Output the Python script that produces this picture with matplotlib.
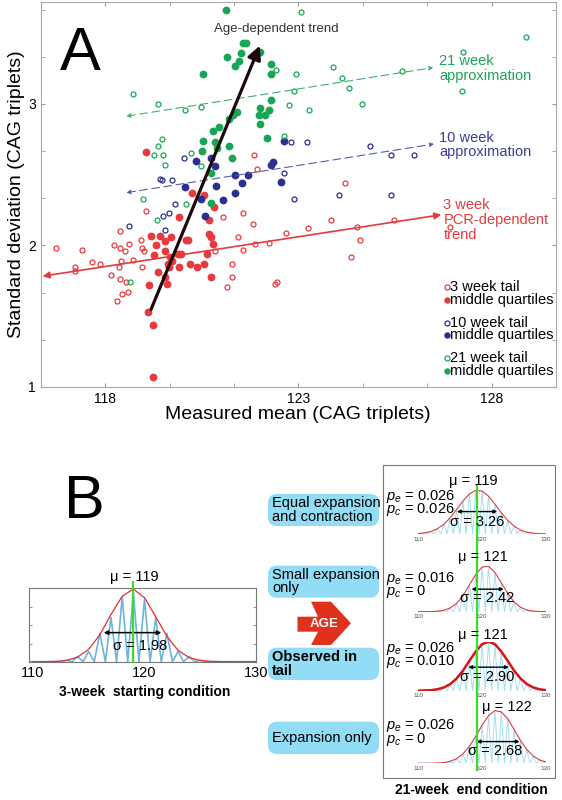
import numpy as np
import matplotlib
matplotlib.use("Agg")
import matplotlib.pyplot as plt
from matplotlib.patches import FancyBboxPatch, Polygon

plt.rcParams['font.family'] = ['Liberation Sans', 'DejaVu Sans']
plt.rcParams['mathtext.fontset'] = 'custom'
plt.rcParams['mathtext.rm'] = 'Liberation Sans'
plt.rcParams['mathtext.it'] = 'Liberation Sans:italic'

W, H = 562, 800
RED = '#e63a3c'
BLUE = '#2c2f8e'
GREEN = '#19a654'

## Panel A data (mean, sd)
red_tail_x = [116.72,117.23,117.21,117.40,117.66,117.87,118.16,118.22,118.39,118.39,118.41,118.36,118.51,118.39,118.44,118.53,118.58,118.30,118.61,118.73,118.94,118.96,119.01,118.95,119.05,120.84,121.06,121.29,121.29,121.15,121.43,121.56,121.57,121.82,121.85,121.93,121.89,122.23,122.39,122.44,122.69,123.25,123.85,124.20,124.53,124.59,124.36,125.48,126.92]
red_tail_y = [1.98,1.85,1.82,1.97,1.88,1.87,1.79,2.00,2.10,1.98,1.89,1.85,1.96,1.76,1.66,1.74,1.67,1.61,2.01,1.90,2.04,1.98,1.96,1.85,2.24,1.96,2.20,1.87,1.78,1.71,2.06,2.23,1.97,2.15,2.64,2.54,2.01,2.02,1.73,1.74,2.09,2.12,2.18,2.44,2.13,2.04,1.92,2.18,2.13]
red_mid_x = [119.06,119.18,119.41,119.55,119.71,119.31,119.55,119.27,119.36,119.14,119.56,119.62,119.73,119.88,119.96,119.90,119.64,119.69,119.59,120.10,120.15,119.92,120.24,120.55,120.81,120.68,120.70,120.73,120.78,120.64,120.56,120.38,120.19,120.75,119.10,119.23,119.25]
red_mid_y = [2.66,2.07,2.07,2.03,2.06,2.00,1.96,1.93,1.81,1.72,1.78,1.87,1.89,1.94,1.94,1.85,1.85,1.92,1.73,2.04,2.04,2.20,2.37,2.36,2.27,2.18,2.08,2.06,2.01,1.94,1.87,1.85,1.87,1.78,1.53,1.44,1.07]
blue_tail_x = [118.61,119.56,119.50,119.64,119.82,119.41,119.47,119.72,120.04,122.64,122.81,123.22,122.90,124.05,124.86,125.41,125.40,125.98]
blue_tail_y = [2.14,2.11,2.21,2.23,2.29,2.47,2.46,2.46,2.62,2.51,2.73,2.73,2.33,2.36,2.70,2.64,2.36,2.64]
blue_mid_x = [120.07,120.34,120.47,120.59,120.75,120.84,120.87,121.06,121.35,121.37,121.53,121.69,122.30,122.34,122.56,122.62]
blue_mid_y = [2.41,2.60,2.33,2.21,2.62,2.56,2.42,2.32,2.37,2.50,2.44,2.50,2.57,2.59,2.45,2.74]
green_tail_x = [118.71,119.36,120.06,120.47,119.38,119.46,119.26,119.50,119.54,120.23,120.47,120.10,118.98,119.33,118.64,122.63,122.41,122.94,122.77,122.88,123.28,123.89,124.13,124.32,124.64,125.69,127.25,127.23,128.90,123.07]
green_tail_y = [3.07,3.00,2.96,2.98,2.70,2.75,2.64,2.64,2.57,2.65,2.56,2.29,2.33,2.18,1.74,2.77,3.24,3.21,2.99,3.09,2.96,3.26,3.18,3.11,3.00,3.23,3.37,3.09,3.47,3.65]
green_mid_x = [121.14,120.52,121.15,121.52,121.36,121.47,121.58,121.65,122.01,122.28,122.30,122.30,122.02,122.23,122.14,121.99,122.02,122.19,121.40,121.31,121.21,120.94,120.78,120.54,120.83,120.90,120.50,121.21,121.28,120.73,120.74]
green_mid_y = [3.66,3.21,3.33,3.36,3.27,3.30,3.43,3.43,3.37,3.28,3.21,3.03,2.97,2.96,2.92,2.92,2.86,2.76,2.94,2.92,2.89,2.84,2.81,2.74,2.73,2.69,2.67,2.70,2.62,2.51,2.30]

# trend lines (start, end)
pcr_trend = [(116.31, 1.78), (126.77, 2.22)]
wk10_trend = [(118.48, 2.37), (126.58, 2.72)]
wk21_trend = [(118.48, 2.91), (126.56, 3.26)]
age_trend = [(119.16, 1.53), (122.03, 3.43)]

## Panel B data: distributions on 110..130
cag = np.arange(110, 131)
start_fit = [0, 0.001, 0.004, 0.018, 0.062, 0.17, 0.37, 0.65, 0.90, 1.0, 0.88, 0.62, 0.35, 0.156, 0.056, 0.016, 0.004, 0.001, 0, 0, 0]
start_counts = [0, 0, 0, 0.02, 0.07, 0.14, 0.39, 0.61, 0.89, 0.95, 0.86, 0.61, 0.39, 0.14, 0.07, 0.02, 0, 0, 0, 0, 0]
end_fits = [
    [0.010,0.025,0.058,0.12,0.22,0.37,0.56,0.75,0.91,0.995,0.974,0.86,0.68,0.48,0.31,0.18,0.091,0.042,0.018,0.007,0.002],
    [0,0.0006,0.003,0.010,0.031,0.081,0.18,0.35,0.58,0.81,0.97,0.99,0.85,0.63,0.40,0.21,0.097,0.038,0.013,0.004,0.001],
    [0.001,0.004,0.011,0.029,0.066,0.135,0.25,0.41,0.61,0.80,0.95,1.0,0.95,0.80,0.61,0.41,0.25,0.135,0.066,0.029,0.011],
    [0,0.0004,0.0015,0.005,0.014,0.038,0.087,0.18,0.32,0.51,0.72,0.90,0.995,0.97,0.84,0.64,0.43,0.26,0.135,0.063,0.026],
]
end_mu = ['119', '121', '121', '122']
end_sigma = ['3.26', '2.42', '2.90', '2.68']
end_pe = ['0.026', '0.016', '0.026', '0.026']
end_pc = ['0.026', '0', '0.010', '0']
end_arrows = [(115.6, 122.8, 0.51), (117.9, 123.8, 0.49), (117.4, 124.6, 0.48), (118.7, 126.3, 0.41)]
scenarios = ['Equal expansion\nand contraction', 'Small expansion\nonly', 'Observed in\ntail', 'Expansion only']


def rect(x0, y0, x1, y1):
    # pixel box (top-left origin) -> figure fraction
    return [x0 / W, 1 - y1 / H, (x1 - x0) / W, (y1 - y0) / H]


def zigzag(vals):
    xs, ys = [], []
    for c, v in zip(cag, vals):
        xs += [c - 0.5, c]
        ys += [0, v]
    return xs + [cag[-1] + 0.5], ys + [0]


fig = plt.figure(figsize=(W / 100, H / 100), dpi=100)

## Panel A
ax = fig.add_axes(rect(40.6, 2, 556, 387))
ax.plot(red_tail_x, red_tail_y, 'o', mfc='none', mec=RED, ms=3.6, mew=0.9)
ax.plot(red_mid_x, red_mid_y, 'o', color=RED, ms=4.6)
ax.plot(blue_tail_x, blue_tail_y, 'o', mfc='none', mec=BLUE, ms=3.6, mew=0.9)
ax.plot(blue_mid_x, blue_mid_y, 'o', color=BLUE, ms=4.6)
ax.plot(green_tail_x, green_tail_y, 'o', mfc='none', mec=GREEN, ms=3.6, mew=0.9)
ax.plot(green_mid_x, green_mid_y, 'o', color=GREEN, ms=4.6)

ax.annotate('', xy=pcr_trend[1], xytext=pcr_trend[0],
            arrowprops=dict(arrowstyle='<|-|>', color=RED, lw=1.2, mutation_scale=10))
ax.annotate('', xy=wk10_trend[1], xytext=wk10_trend[0],
            arrowprops=dict(arrowstyle='<|-|>', color='#5a5aa8', lw=0.8, ls=(0, (7, 4)), mutation_scale=6))
ax.annotate('', xy=wk21_trend[1], xytext=wk21_trend[0],
            arrowprops=dict(arrowstyle='<|-|>', color='#3fb06a', lw=0.8, ls=(0, (7, 4)), mutation_scale=6))
ax.annotate('', xy=age_trend[1], xytext=age_trend[0],
            arrowprops=dict(arrowstyle='-|>', color='#1c0808', lw=2.3, mutation_scale=20))

ax.text(122.42, 3.53, 'Age-dependent trend', ha='center', va='center', fontsize=9.5, color='#333333')
ax.text(126.65, 3.25, '21 week\napproximation', ha='left', va='center', fontsize=10.5, color=GREEN, linespacing=1.05)
ax.text(126.65, 2.71, '10 week\napproximation', ha='left', va='center', fontsize=10.5, color='#3c3c9a', linespacing=1.05)
ax.text(126.75, 2.18, '3 week\nPCR-dependent\ntrend', ha='left', va='center', fontsize=10.5, color=RED, linespacing=1.05)

ax.set_xlim(116.33, 129.66)
ax.set_ylim(1, 3.72)
ax.set_xticks([118 + k * 5 / 3 for k in range(-1, 8)], minor=True)
ax.set_xticks([118, 123, 128])
ax.set_yticks([1 + k / 3 for k in range(9)], minor=True)
ax.set_yticks([1, 2, 3])
ax.tick_params(which='both', direction='in', top=True, right=True, length=3, color='#999999', labelsize=10)
for s in ax.spines.values():
    s.set_color('#aaaaaa')
ax.set_xlabel('Measured mean (CAG triplets)', fontsize=14, labelpad=0)
ax.set_ylabel('Standard deviation (CAG triplets)', fontsize=14, labelpad=2)

## Panel B left
axl = fig.add_axes(rect(29.4, 588.3, 256.3, 661.7))
zx, zy = zigzag(start_counts)
axl.plot(zx, zy, color='#6fb3e0', lw=1.2)
axl.plot(cag, start_fit, color='#e03030', lw=0.9)
axl.annotate('', xy=(121.75, 0.40), xytext=(116.1, 0.40),
             arrowprops=dict(arrowstyle='<|-|>', color='black', lw=1.1, mutation_scale=6))
axl.set_xlim(109.7, 130)
axl.set_ylim(0, 1.01)
axl.set_xticks([110, 120, 130])
axl.set_yticks([0.25, 0.5, 0.75])
axl.set_yticklabels([])
axl.tick_params(axis='x', length=0, labelsize=10.5, pad=3)
axl.tick_params(axis='y', direction='in', length=2, right=True, color='#999999')
for s in axl.spines.values():
    s.set_color('#777777')

## Panel B right sub-panels
baselines = [534, 611.7, 690.7, 763.3]
peaks = [44, 46, 49, 53]
for i in range(4):
    b = fig.add_axes(rect(418.3, baselines[i] - peaks[i], 546, baselines[i]))
    zx, zy = zigzag(end_fits[i])
    b.plot(zx, zy, color='#a6def2', lw=0.7)
    b.plot(cag, end_fits[i], color='#d41515' if i == 2 else '#e23a3a', lw=1.8 if i == 2 else 0.8)
    a0, a1, ah = end_arrows[i]
    b.annotate('', xy=(a1, ah), xytext=(a0, ah),
               arrowprops=dict(arrowstyle='<|-|>', color='black', lw=1.0, mutation_scale=5))
    b.set_xlim(110, 130)
    b.set_ylim(0, 1.0)
    b.set_xticks([110, 120, 130])
    b.set_yticks([])
    b.tick_params(axis='x', length=0, labelsize=4.5, labelcolor='#555555', pad=2)
    for s in b.spines.values():
        s.set_visible(False)

## Overlay in pixel coordinates
ov = fig.add_axes([0, 0, 1, 1], zorder=5)
ov.set_xlim(0, W)
ov.set_ylim(H, 0)
ov.axis('off')

ov.text(80, 55, 'A', fontsize=44, ha='center', va='center')
ov.text(84, 503, 'B', fontsize=44, ha='center', va='center')

# legend of panel A
leg = [('3 week tail', RED, 287.3), ('10 week tail', BLUE, 322.7), ('21 week tail', GREEN, 358.3)]
for lab, col, yy in leg:
    ov.plot(447, yy, 'o', mfc='none', mec=col, ms=3.6, mew=0.9)
    ov.text(450.5, yy, lab, fontsize=10.5, va='center', ha='left')
    ov.plot(447, yy + 12.5, 'o', color=col, ms=3.6)
    ov.text(450.5, yy + 12.5, 'middle quartiles', fontsize=10.5, va='center', ha='left')

# left panel texts
ov.plot([132.6, 132.6], [582, 661.7], color='#3ddc2a', lw=1.6)
ov.text(134.4, 577, '\u03bc = 119', fontsize=10.5, ha='center', va='center')
ov.text(140, 646, '\u03c3 = 1.98', fontsize=10.5, ha='center', va='center')
ov.text(145, 692, '3-week  starting condition', fontsize=10, weight='bold', ha='center', va='center')

# scenario bubbles
bub_y = [(494, 526), (565.7, 597.7), (647.7, 680), (721.7, 754)]
for (y0, y1), lab in zip(bub_y, scenarios):
    ov.add_patch(FancyBboxPatch((268, y0), 111, y1 - y0, boxstyle='round,pad=0,rounding_size=9',
                                fc='#92dcf6', ec='none'))
    ov.text(272, (y0 + y1) / 2, lab, fontsize=10.5, va='center', ha='left', linespacing=0.95,
            weight='bold' if lab.startswith('Observed') else 'normal')

# AGE chevron
ov.add_patch(Polygon([(297.5, 616.7), (318, 616.7), (311, 601.7), (331, 601.7), (351, 623.3),
                      (331, 645), (311, 645), (318, 631.7), (297.5, 631.7)], closed=True,
                     fc='#e0301e', ec='none'))
ov.text(324, 624, 'AGE', color='white', fontsize=9.5, weight='bold', ha='center', va='center')

# right box
ov.add_patch(plt.Rectangle((383.3, 465), 171.7, 313.3, fill=False, ec='#777777', lw=0.8))
ov.plot([477.3, 477.3], [485, 770], color='#3ddc2a', lw=1.6, zorder=6)
mu_pos = [(473.3, 480.7), (483.3, 556.7), (483.3, 635), (506.7, 707.3)]
sig_pos = [(476.7, 521.7), (486.7, 598.3), (486.7, 676.7), (495, 751)]
pe_y = [496.7, 578.3, 648.3, 725.7]
pc_y = [510, 591.7, 661, 739.3]
for i in range(4):
    ov.text(*mu_pos[i], '\u03bc = ' + end_mu[i], fontsize=10.5, ha='center', va='center', zorder=7)
    ov.text(*sig_pos[i], '\u03c3 = ' + end_sigma[i], fontsize=10.5, ha='center', va='center', zorder=7)
    ov.text(386.5, pe_y[i], r'$p_e$ = ' + end_pe[i], fontsize=10.5, ha='left', va='center')
    ov.text(386.5, pc_y[i], r'$p_c$ = ' + end_pc[i], fontsize=10.5, ha='left', va='center')
ov.text(471.7, 790, '21-week  end condition', fontsize=10, weight='bold', ha='center', va='center')

fig.savefig('out.png', dpi=100)
